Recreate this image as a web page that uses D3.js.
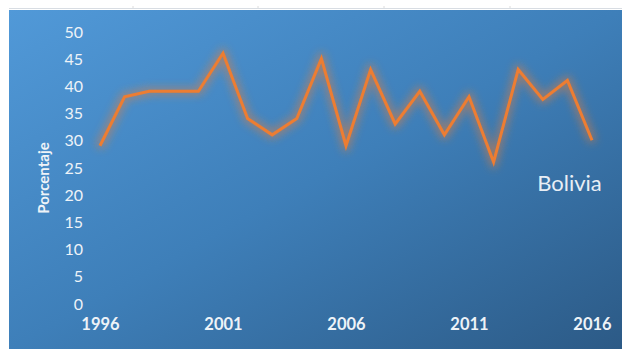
<!DOCTYPE html>
<html>
<head>
<meta charset="utf-8">
<script src="https://cdn.jsdelivr.net/npm/d3@7/dist/d3.min.js"></script>
<style>
  html, body { margin: 0; padding: 0; background: #ffffff; }
  svg { display: block; }
</style>
</head>
<body>
<svg id="chart" width="622" height="349"></svg>
<script>
// Annual percentage series for Bolivia
const years = [1996, 1997, 1998, 1999, 2000, 2001, 2002, 2003, 2004, 2005, 2006,
               2007, 2008, 2009, 2010, 2011, 2012, 2013, 2014, 2015, 2016];
const values = [29, 38, 39, 39, 39, 46, 34, 31, 34, 45, 29,
                43, 33, 39, 31, 38, 26, 43, 37.5, 41, 30];
const yTicks = [0, 5, 10, 15, 20, 25, 30, 35, 40, 45, 50];
const xTicks = [1996, 2001, 2006, 2011, 2016];
const seriesName = "Bolivia";
const yTitle = "Porcentaje";

const svg = d3.select("#chart");
const W = 622, H = 349;

const defs = svg.append("defs");
const grad = defs.append("linearGradient")
  .attr("id", "bg").attr("x1", "0%").attr("y1", "0%").attr("x2", "100%").attr("y2", "100%");
grad.append("stop").attr("offset", "0%").attr("stop-color", "#5199d8");
grad.append("stop").attr("offset", "50%").attr("stop-color", "#3e7fb9");
grad.append("stop").attr("offset", "100%").attr("stop-color", "#2c5a86");

// Soft orange halo around the series line
const glow = defs.append("filter").attr("id", "glow")
  .attr("x", "-10%").attr("y", "-30%").attr("width", "120%").attr("height", "160%");
glow.append("feMorphology").attr("in", "SourceGraphic").attr("operator", "dilate").attr("radius", 2).attr("result", "d");
glow.append("feGaussianBlur").attr("in", "d").attr("stdDeviation", 4).attr("result", "b");
glow.append("feComponentTransfer").attr("in", "b").attr("result", "b2")
  .append("feFuncA").attr("type", "linear").attr("slope", 0.5);
const merge = glow.append("feMerge");
merge.append("feMergeNode").attr("in", "b2");
merge.append("feMergeNode").attr("in", "SourceGraphic");

// Top strip with thin rule and small marks
svg.append("rect").attr("x", 0).attr("y", 0).attr("width", W).attr("height", H).attr("fill", "#ffffff");
svg.append("line").attr("x1", 9).attr("x2", W).attr("y1", 8.5).attr("y2", 8.5)
  .attr("stroke", "#d8dde3").attr("stroke-width", 1);
[133, 258, 384, 510].forEach(x => {
  svg.append("line").attr("x1", x).attr("x2", x).attr("y1", 6).attr("y2", 8)
    .attr("stroke", "#dcdcdc").attr("stroke-width", 1);
});

// Panel background
svg.append("rect").attr("x", 9).attr("y", 10).attr("width", W - 9).attr("height", H - 10)
  .attr("fill", "url(#bg)");

// Scales
const x = d3.scaleLinear().domain([1996, 2016]).range([100, 592]);
const y = d3.scaleLinear().domain([0, 50]).range([303.5, 31.5]);

const font = "Lato, 'Open Sans', sans-serif";

// Y axis labels
const yAxis = svg.append("g").attr("transform", "translate(83,0)")
  .call(d3.axisLeft(y).tickValues(yTicks).tickSize(0).tickPadding(0));
yAxis.select(".domain").remove();
yAxis.selectAll("text")
  .attr("fill", "#eef3f8").attr("font-family", font)
  .attr("font-size", 16).attr("dy", "0.35em");

// X axis labels
const xAxis = svg.append("g").attr("transform", "translate(0,318)")
  .call(d3.axisBottom(x).tickValues(xTicks).tickFormat(d3.format("d")).tickSize(0).tickPadding(0));
xAxis.select(".domain").remove();
xAxis.selectAll("text")
  .attr("fill", "#eef3f8").attr("font-family", font)
  .attr("font-size", 16.5).attr("font-weight", "bold").attr("dy", "0.72em");

// Y axis title
svg.append("text")
  .attr("transform", "translate(49,178) rotate(-90)")
  .attr("text-anchor", "middle")
  .attr("fill", "#eef3f8").attr("font-family", font)
  .attr("font-size", 15).attr("font-weight", "bold")
  .text(yTitle);

// Series line
const line = d3.line().x((d, i) => x(years[i])).y(d => y(d));
svg.append("path").datum(values)
  .attr("d", line)
  .attr("fill", "none").attr("stroke", "#ed7d31").attr("stroke-width", 3)
  .attr("stroke-linejoin", "miter").attr("filter", "url(#glow)");

// Series label
svg.append("text")
  .attr("x", 569.5).attr("y", 183).attr("dy", "0.35em")
  .attr("text-anchor", "middle")
  .attr("fill", "#e8eef5").attr("font-family", font)
  .attr("font-size", 22)
  .text(seriesName);
</script>
</body>
</html>
